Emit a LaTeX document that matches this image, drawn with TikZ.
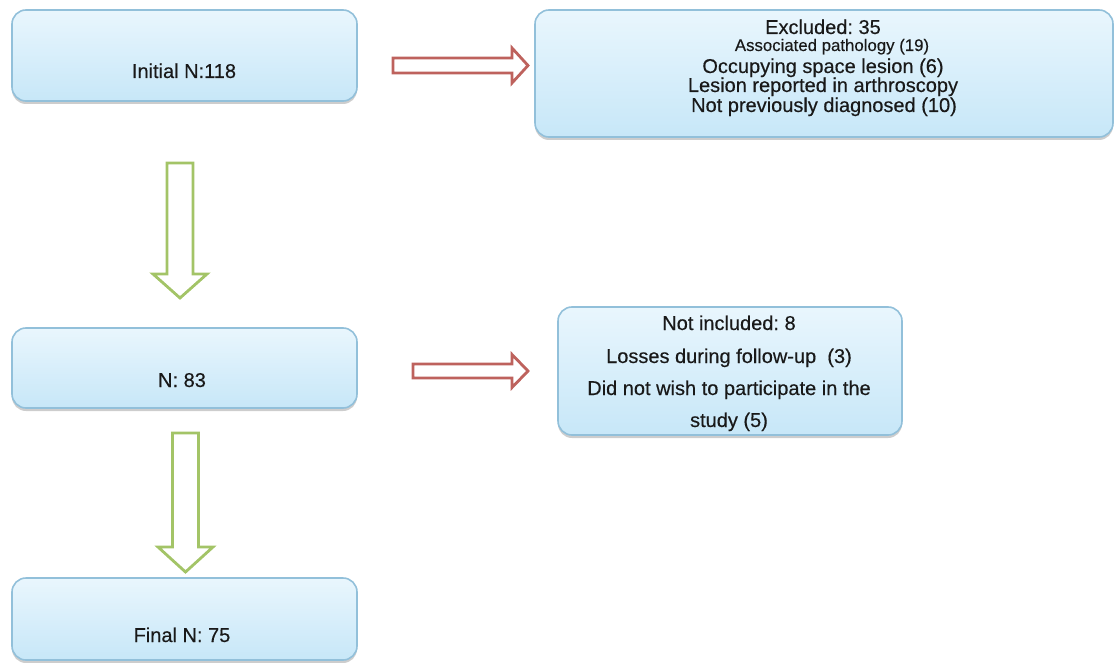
\documentclass[tikz,border=0pt]{standalone}
\usepackage{fontspec}
\setmainfont[FakeBold=0.35]{Liberation Sans}
\usetikzlibrary{shadows}
\frenchspacing
\definecolor{boxline}{HTML}{92C0DA}
\definecolor{boxtop}{HTML}{E9F6FD}
\definecolor{boxbot}{HTML}{C7E7F8}
\definecolor{redline}{HTML}{BE625D}
\definecolor{greenline}{HTML}{A3C467}
\begin{document}
\begin{tikzpicture}[x=1pt,y=-1pt,
  flowbox/.style={draw=boxline, line width=1.6pt, rounded corners=14pt,
    top color=boxtop, bottom color=boxbot, inner sep=0pt,
    drop shadow={shadow xshift=0pt, shadow yshift=-3pt, opacity=0.28, fill=black!70}},
  boxtext/.style={anchor=base, inner sep=0pt, text=black!90, font=\fontsize{20}{24}\selectfont},
  smalltext/.style={anchor=base, inner sep=0pt, text=black!90, font=\fontsize{16.8}{20}\selectfont},
  redarrow/.style={draw=redline, line width=2.8pt, fill=white, line join=miter},
  greenarrow/.style={draw=greenline, line width=2.8pt, fill=white, line join=miter},
  pics/rightblock/.style n args={4}{code={
    \draw[redarrow] (0,-#2) -- ({#1-#4},-#2) -- ({#1-#4},-#3) -- (#1,0)
      -- ({#1-#4},#3) -- ({#1-#4},#2) -- (0,#2) -- cycle;}},
  pics/downblock/.style n args={4}{code={
    \draw[greenarrow] (-#2,0) -- (-#2,{#1-#4}) -- (-#3,{#1-#4}) -- (0,#1)
      -- (#3,{#1-#4}) -- (#2,{#1-#4}) -- (#2,0) -- cycle;}}
]
\useasboundingbox (0,0) rectangle (1115,663);

% boxes
\node[flowbox, minimum width=345pt, minimum height=91pt] (init) at (184.5,55.5) {};
\node[flowbox, minimum width=578pt, minimum height=127pt] (excl) at (824,73.5) {};
\node[flowbox, minimum width=345pt, minimum height=80pt] (n83) at (184.5,368) {};
\node[flowbox, minimum width=344pt, minimum height=128pt] (notinc) at (730,371) {};
\node[flowbox, minimum width=345pt, minimum height=82pt] (final) at (184.5,619) {};

% texts
\node[boxtext] (tinit) at (184,78) {Initial N:118};
\node[boxtext] (tn83) at (182,387) {N: 83};
\node[boxtext] (tfinal) at (182,642) {Final N: 75};

\node[boxtext] (ex1) at (823,34) {Excluded: 35};
\node[smalltext] (ex2) at (832,51) {Associated pathology (19)};
\node[boxtext] (ex3) at (823,73) {Occupying space lesion (6)};
\node[boxtext] (ex4) at (823,92) {Lesion reported in arthroscopy};
\node[boxtext] (ex5) at (824,112) {Not previously diagnosed (10)};

\node[boxtext] (ni1) at (729,330) {Not included: 8};
\node[boxtext] (ni2) at (729,363) {Losses during follow-up~~(3)};
\node[boxtext] (ni3) at (729,395) {Did not wish to participate in the};
\node[boxtext] (ni4) at (729,427) {study (5)};

% block arrows
\coordinate (r1) at (393,65.5);
\coordinate (r2) at (413,371);
\coordinate (g1) at (180,163);
\coordinate (g2) at (185.5,433);
\pic at (r1) {rightblock={135}{7.5}{17.5}{16}};
\pic at (r2) {rightblock={115}{7}{16.5}{16}};
\pic at (g1) {downblock={135}{13}{27}{24}};
\pic at (g2) {downblock={139}{13}{27.5}{25}};
\end{tikzpicture}
\end{document}
